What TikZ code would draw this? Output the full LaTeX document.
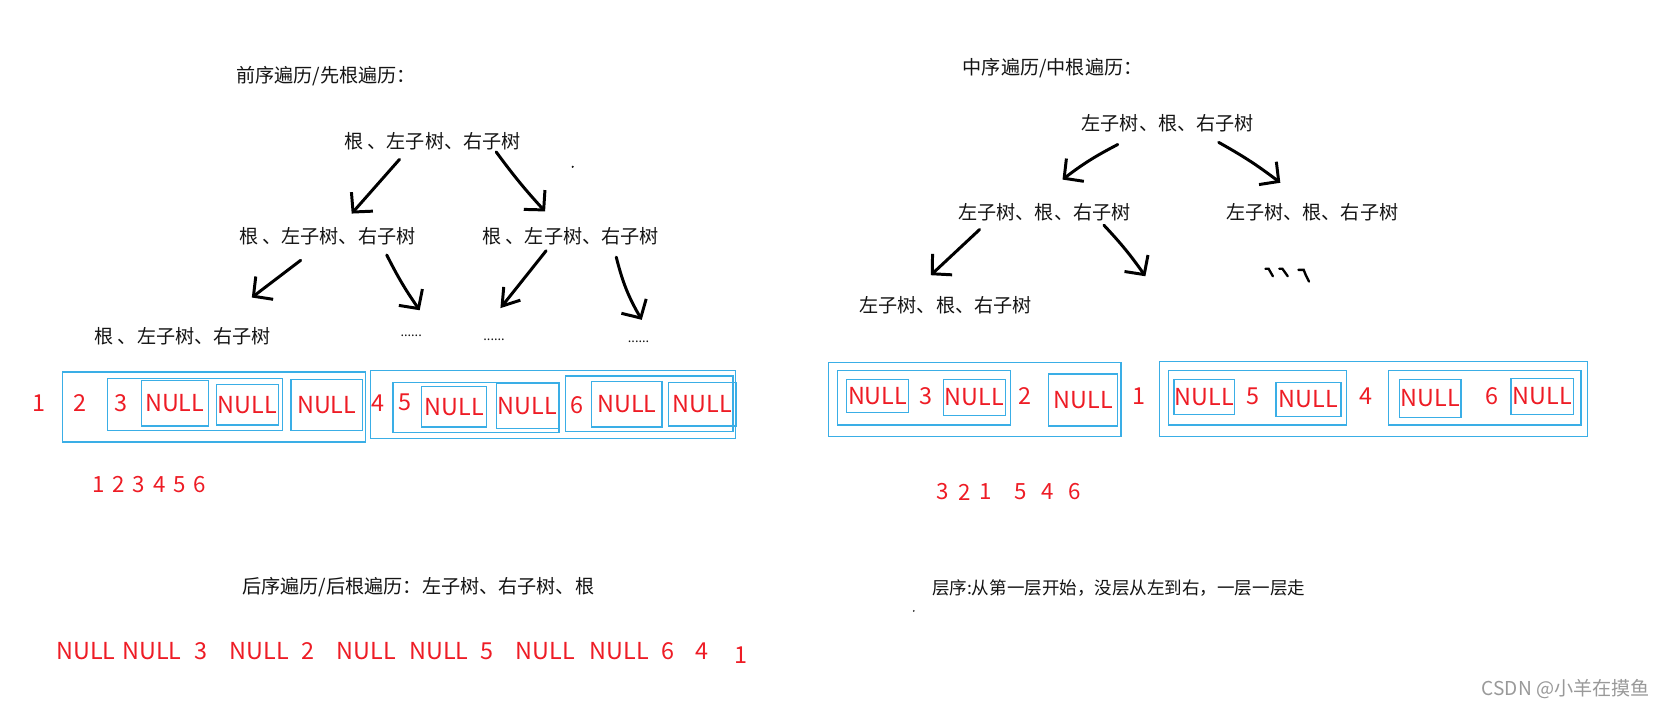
\documentclass[tikz,border=0pt]{standalone}
\usepackage{fontspec}
\setmainfont{Noto Sans CJK SC}
\usetikzlibrary{arrows.meta}
\definecolor{nullred}{HTML}{EE1C25}
\definecolor{boxblue}{HTML}{3AAEE6}
\definecolor{inkc}{HTML}{141414}
\tikzset{
  cjktext/.style={font=\fontsize{18}{20}\selectfont, text=inkc, inner sep=0pt},
  redtext/.style={font=\fontsize{22}{24}\selectfont, text=nullred, inner sep=0pt},
  seqtext/.style={font=\fontsize{21}{23}\selectfont, text=nullred, inner sep=0pt},
  bluebox/.style={draw=boxblue, line width=1.2pt},
  handarrow/.style={draw=black, line width=2.8pt, line cap=round, line join=round,
    -{Straight Barb[length=13pt,width=27pt]}},
  tick/.style={draw=black, line width=2.2pt, line cap=round},
}
\newcommand{\nullbox}[5]{%
  \draw[bluebox] (#2,#3) rectangle (#4,#5);
  \node[redtext] (#1) at ({(#2+#4)/2},{(#3+#5)/2}) {NULL};
}

\begin{document}
\begin{tikzpicture}[x=1pt,y=-1pt]
  \useasboundingbox[fill=white] (0,0) rectangle (1568,667);

  % preorder tree
  \node[cjktext, anchor=west] (pretitle) at (222,72) {前序遍历/先根遍历：};
  \node[cjktext] (pre0) at (407,133) {根 、左子树、右子树};
  \node[cjktext] (pre1) at (308,222) {根 、左子树、右子树};
  \node[cjktext] (pre2) at (537,222) {根 、左子树、右子树};
  \node[cjktext] (pre3) at (172,316) {根 、左子树、右子树};
  \node[cjktext, font=\fontsize{12}{14}\selectfont] (dots1) at (387,316) {......};
  \node[cjktext, font=\fontsize{12}{14}\selectfont] (dots2) at (465,320) {......};
  \node[cjktext, font=\fontsize{12}{14}\selectfont] (dots3) at (601,322) {......};
  \coordinate (a1s) at (376,150);   \coordinate (a1e) at (331,201);
  \coordinate (a2s) at (467,143);   \coordinate (a2e) at (513,199);
  \coordinate (a3s) at (283,245);   \coordinate (a3e) at (237,280);
  \coordinate (a4s) at (364,240);   \coordinate (a4e) at (395,292);
  \coordinate (a5s) at (514,236);   \coordinate (a5e) at (471,290);
  \coordinate (a6s) at (580,242);   \coordinate (a6e) at (604,301);
  \draw[handarrow] (a1s) -- (a1e);
  \draw[handarrow] (a2s) to[bend right=3] (a2e);
  \draw[handarrow] (a3s) -- (a3e);
  \draw[handarrow] (a4s) to[bend right=4] (a4e);
  \draw[handarrow, -{Straight Barb[length=15pt,width=20pt]}] (a5s) -- (a5e);
  \draw[handarrow] (a6s) to[bend right=8] (a6e);
  \fill[inkc] (539,157) circle (1.1);

  % preorder boxes
  \node[redtext] (p1) at (36.5,379) {1};
  \draw[bluebox] (59,350) rectangle (344,416);
  \node[redtext] (p2) at (75,379) {2};
  \draw[bluebox] (101,356) rectangle (266,405);
  \node[redtext] (p3) at (114,379) {3};
  \nullbox{pn1}{133}{358}{196}{401}
  \nullbox{pn2}{204}{362}{262}{400}
  \nullbox{pn3}{274}{357}{341}{405}
  \node[redtext] (p4) at (356,379) {4};
  \draw[bluebox] (349,349) rectangle (692,413);
  \draw[bluebox] (370,360) rectangle (526,407);
  \node[redtext] (p5) at (381,379) {5};
  \nullbox{pn4}{397}{364}{458}{402}
  \nullbox{pn5}{467}{361}{526}{403}
  \draw[bluebox] (532,354) rectangle (690,406);
  \node[redtext] (p6) at (543,381) {6};
  \nullbox{pn6}{557}{359}{623}{402}
  \nullbox{pn7}{629}{360}{693}{401}
  \foreach \d [count=\i] in {1,...,6}
    \node[seqtext] (preseq\i) at ({74+19*\i},456) {\d};

  % inorder tree
  \node[cjktext, anchor=west] (intitle) at (906,64) {中序遍历/中根遍历：};
  \node[cjktext] (in0) at (1099,116) {左子树、根、右子树};
  \node[cjktext] (in1) at (983,200) {左子树、根、右子树};
  \node[cjktext] (in2) at (1235,200) {左子树、根、右子树};
  \node[cjktext] (in3) at (890,287) {左子树、根、右子树};
  \coordinate (b1s) at (1052,136);  \coordinate (b1e) at (1000,169);
  \coordinate (b2s) at (1147,134);  \coordinate (b2e) at (1205,172);
  \coordinate (b3s) at (922,216);   \coordinate (b3e) at (876,259);
  \coordinate (b4s) at (1039,212);  \coordinate (b4e) at (1078,260);
  \draw[handarrow] (b1s) to[bend right=5] (b1e);
  \draw[handarrow] (b2s) to[bend left=4] (b2e);
  \draw[handarrow] (b3s) -- (b3e);
  \draw[handarrow] (b4s) to[bend left=4] (b4e);
  \draw[tick] (1191,253) -- (1194,253) -- (1198,260);
  \draw[tick] (1204,253) -- (1207,253) -- (1212,260);
  \draw[tick] (1222,254) -- (1227,254) -- (1229,259) -- (1232,265);

  % inorder boxes
  \draw[bluebox] (780,341) rectangle (1055,411);
  \draw[bluebox] (788,349) rectangle (951,400);
  \nullbox{qn1}{797}{357}{855}{388}
  \node[redtext] (q3) at (871.5,373) {3};
  \nullbox{qn2}{888}{357}{946}{391}
  \node[redtext] (q2) at (965,373) {2};
  \nullbox{qn3}{987}{352}{1052}{401}
  \node[redtext] (q1) at (1072,373) {1};
  \draw[bluebox] (1091,340) rectangle (1494,411);
  \draw[bluebox] (1100,349) rectangle (1267,400);
  \nullbox{qn4}{1105}{357}{1162}{390}
  \node[redtext] (q5) at (1179,373) {5};
  \nullbox{qn5}{1201}{360}{1262}{392}
  \node[redtext] (q4) at (1286,373) {4};
  \draw[bluebox] (1307,349) rectangle (1488,400);
  \nullbox{qn6}{1317}{357}{1375}{393}
  \node[redtext] (q6) at (1404,373) {6};
  \nullbox{qn7}{1422}{356}{1481}{390}
  \foreach \px/\d [count=\i] in {887/3,908/2,928/1,961/5,986/4,1011/6}
    \node[seqtext] (inseq\i) at (\px,463) {\d};

  % postorder
  \node[cjktext, anchor=west] (posttitle) at (228,553) {后序遍历/后根遍历：左子树、右子树、根};
  \foreach \px/\lab [count=\i] in {81/NULL,143/NULL,189.5/3,244/NULL,290/2,344.6/NULL,
      413/NULL,458.5/5,513.3/NULL,583/NULL,628.8/6,660.8/4}
    \node[redtext] (post\i) at (\px,613) {\lab};
  \node[redtext] (post13) at (697,617) {1};

  % level order
  \node[cjktext, anchor=west, font=\fontsize{16.5}{18}\selectfont] (leveltitle) at (877,553)
    {层序:从第一层开始，没层从左到右，一层一层走};
  \fill[inkc] (860,575) circle (0.9);

  % watermark
  \node[anchor=east, inner sep=0pt, text=black!40, font=\fontsize{18}{20}\selectfont]
    (mark) at (1553,649) {CSDN @小羊在摸鱼};
\end{tikzpicture}
\end{document}
